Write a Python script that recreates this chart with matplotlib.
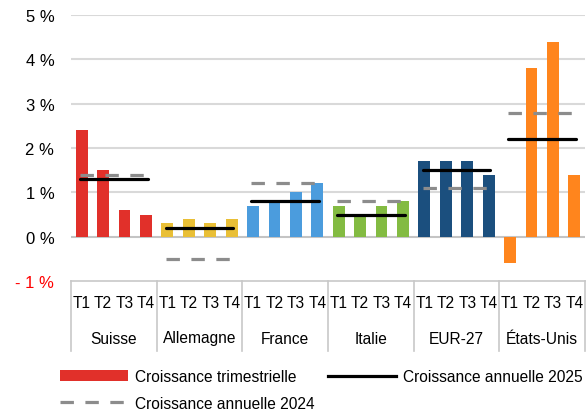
import numpy as np
import matplotlib.pyplot as plt
from matplotlib.patches import Patch
from matplotlib.lines import Line2D
from matplotlib.transforms import blended_transform_factory

plt.rcParams['font.family'] = ['Liberation Sans', 'DejaVu Sans']

# data (growth in %)
countries = ['Suisse', 'Allemagne', 'France', 'Italie', 'EUR-27', 'États-Unis']
quarters = ['T1', 'T2', 'T3', 'T4']
quarterly = [
    [2.4, 1.5, 0.6, 0.5],
    [0.3, 0.4, 0.3, 0.4],
    [0.7, 0.8, 1.0, 1.2],
    [0.7, 0.5, 0.7, 0.8],
    [1.7, 1.7, 1.7, 1.4],
    [-0.6, 3.8, 4.4, 1.4],
]
annual_2025 = [1.3, 0.2, 0.8, 0.5, 1.5, 2.2]
annual_2024 = [1.4, -0.5, 1.2, 0.8, 1.1, 2.8]
colors = ['#E1302A', '#E9BF36', '#4B9CDD', '#83BB42', '#1B4F7E', '#FF851D']

W, H = 587, 414
fig = plt.figure(figsize=(W / 100, H / 100), dpi=100)
ax = fig.add_axes([71 / W, 1 - 282 / H, (585 - 71) / W, (282 - 16) / H])

n = len(quarters)
for g, vals in enumerate(quarterly):
    x = np.arange(n) + g * n
    ax.bar(x, vals, width=0.55, color=colors[g], zorder=3)
    ax.plot([x[0] - 0.08, x[-1] + 0.08], [annual_2024[g]] * 2, color='#8C8C8C',
            lw=2.3, dashes=(4.2, 3.6), zorder=4)
    ax.plot([x[0] - 0.08, x[-1] + 0.08], [annual_2025[g]] * 2, color='black',
            lw=2.3, solid_capstyle='round', zorder=5)

ax.set_xlim(-0.5, len(countries) * n - 0.5)
ax.set_ylim(-1, 5)
ax.set_yticks(range(-1, 6))
ax.set_yticklabels(['- 1 %', '0 %', '1 %', '2 %', '3 %', '4 %', '5 %'], fontsize=12)
ax.get_yticklabels()[0].set_color('red')
ax.tick_params(axis='y', length=0, pad=12)

for y in range(1, 6):
    ax.axhline(y, color='#D9D9D9', lw=1.5, zorder=1)
ax.axhline(0, color='#C4C4C4', lw=1.5, zorder=2)

for s in ['top', 'right', 'left']:
    ax.spines[s].set_visible(False)
ax.spines['bottom'].set_color('#C8C8C8')
ax.spines['bottom'].set_linewidth(1.2)

# category axis: quarter labels, country labels and separators
ax.set_xticks([])
trans = blended_transform_factory(ax.transData, ax.transAxes)
px = 1 / (282 - 16)
for g, name in enumerate(countries):
    for i, q in enumerate(quarters):
        ax.text(g * n + i, -22 * px, q, transform=trans, ha='center', va='center', fontsize=11.2)
    ax.text(g * n + (n - 1) / 2, -57 * px, name, transform=trans, ha='center', va='center', fontsize=11.2)
for b in np.arange(len(countries) + 1) * n - 0.5:
    ax.plot([b, b], [0, -70 * px], transform=trans, color='#C8C8C8', lw=1.2, clip_on=False)

handles = [
    Patch(facecolor=colors[0], label='Croissance trimestrielle'),
    Line2D([], [], color='#8C8C8C', lw=2.3, dashes=(4.2, 3.6), label='Croissance annuelle 2024'),
    Line2D([], [], color='black', lw=2.3, label='Croissance annuelle 2025'),
]
fig.legend(handles=handles, loc='upper left', bbox_to_anchor=(60 / W, 1 - 370 / H), ncol=2,
           frameon=False, fontsize=11.2, handlelength=4.4, handleheight=0.65,
           handletextpad=0.45, columnspacing=0.8, labelspacing=0.75, borderpad=0, borderaxespad=0)

fig.savefig('out.png', dpi=100)
